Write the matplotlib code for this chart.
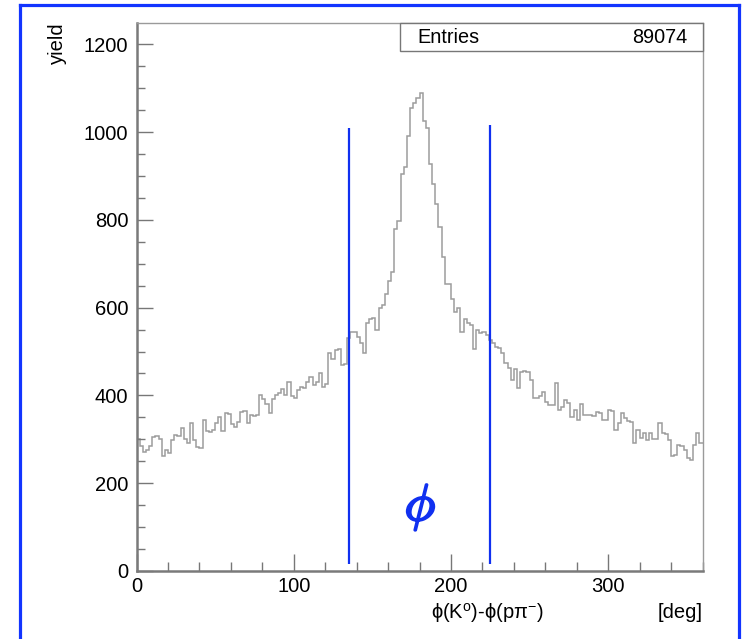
import numpy as np
import matplotlib
matplotlib.use("Agg")
import matplotlib.pyplot as plt
import matplotlib.patheffects as pe
from matplotlib.patches import Rectangle
from matplotlib.lines import Line2D

# ---- data -------------------------------------------------------------
bin_edges = np.arange(0, 362, 2)  # 2-degree bins from 0 to 360
counts = [
    300, 285, 270, 275, 285, 305, 308, 300, 262, 275,
    268, 298, 310, 308, 325, 300, 292, 338, 298, 282,
    280, 344, 318, 316, 322, 338, 350, 318, 360, 358,
    335, 328, 340, 362, 365, 338, 356, 354, 356, 402,
    392, 380, 360, 392, 402, 405, 415, 400, 430, 398,
    395, 412, 420, 417, 430, 442, 424, 430, 452, 420,
    425, 497, 482, 504, 505, 470, 472, 531, 545, 545,
    534, 520, 497, 566, 573, 577, 550, 600, 607, 630,
    660, 682, 780, 797, 905, 921, 990, 1055, 1065, 1077,
    1088, 1024, 1008, 928, 882, 836, 783, 715, 653, 653,
    620, 590, 600, 545, 575, 565, 560, 505, 548, 543,
    545, 538, 527, 520, 510, 508, 497, 474, 463, 435,
    460, 417, 454, 456, 454, 435, 394, 395, 398, 408,
    385, 378, 378, 428, 367, 373, 390, 382, 350, 367,
    343, 380, 355, 355, 355, 352, 362, 360, 343, 345,
    367, 365, 321, 337, 360, 348, 342, 340, 291, 321,
    302, 314, 298, 314, 300, 300, 337, 314, 312, 298,
    263, 265, 286, 284, 275, 257, 252, 286, 314, 291,
]
cut_positions = [135, 225]
cut_tops = [1008, 1015]
cut_bottom = 15
entries_label = "Entries"
entries_value = "89074"
x_ticks = [0, 100, 200, 300]
y_ticks = [0, 200, 400, 600, 800, 1000, 1200]

# ---- figure -----------------------------------------------------------
FONT = "Liberation Sans"
plt.rcParams["font.family"] = [FONT, "DejaVu Sans"]
plt.rcParams["mathtext.fontset"] = "custom"
plt.rcParams["mathtext.rm"] = FONT
plt.rcParams["mathtext.it"] = FONT + ":italic"

W, H = 747, 639
fig = plt.figure(figsize=(W / 100, H / 100), dpi=100)
ax = fig.add_axes([136.5 / W, 1 - 571 / H, 566 / W, 548.3 / H])

ax.stairs(counts, bin_edges, color="#9c9c9c", linewidth=1.1, baseline=None)

ax.set_xlim(0, 360)
ax.set_ylim(0, 1249)
ax.set_xticks(x_ticks)
ax.set_yticks(y_ticks)
ax.set_xticks(np.arange(0, 361, 20), minor=True)
ax.set_yticks(np.arange(0, 1250, 50), minor=True)
ax.tick_params(axis="both", which="both", direction="in", colors="#777777",
               labelcolor="black", labelsize=14.5, width=1.0)
ax.tick_params(axis="x", which="major", length=12, pad=4)
ax.tick_params(axis="x", which="minor", length=6.5)
ax.tick_params(axis="y", which="major", length=11.5, pad=6)
ax.tick_params(axis="y", which="minor", length=5.5)
ax.tick_params(top=False, right=False, which="both")

for side in ["left", "bottom"]:
    ax.spines[side].set_color("#7a7a7a")
    ax.spines[side].set_linewidth(1.8)
for side in ["top", "right"]:
    ax.spines[side].set_color("#9a9a9a")
    ax.spines[side].set_linewidth(1.0)

# cut lines
blue = "#1030f0"
for xc, yt in zip(cut_positions, cut_tops):
    ax.plot([xc, xc], [cut_bottom, yt], color=blue, linewidth=1.6,
            solid_capstyle="butt", zorder=3)

# big phi symbol
ax.text(180.5, 144, r"$\phi$", color=blue, fontsize=37,
        math_fontfamily="cm", ha="center", va="center",
        path_effects=[pe.withStroke(linewidth=1.6, foreground=blue)])

# stats box
ax.add_patch(Rectangle((0.4655, 0.949), 0.5345, 0.051, transform=ax.transAxes,
                       facecolor="white", edgecolor="#777777", linewidth=1.0,
                       zorder=4, clip_on=False))
ax.text(0.4956, 0.9735, entries_label, transform=ax.transAxes, fontsize=14.3,
        ha="left", va="center", zorder=5)
ax.text(0.9726, 0.9735, entries_value, transform=ax.transAxes, fontsize=14.3,
        ha="right", va="center", zorder=5)

# axis titles
fig.text(57 / W, 1 - 22.5 / H, "yield", rotation=90, fontsize=14.5,
         ha="center", va="top")
fig.text(487 / W, 1 - 613 / H, r"$\mathrm{ϕ(K^{o})\text{-}ϕ(pπ^{-})}$",
         fontsize=14.5, ha="center", va="center")
fig.text(703 / W, 1 - 613 / H, "[deg]", fontsize=14.5, ha="right", va="center")

# blue frame around the figure (open at the bottom)
bc = "#1234ff"
bw = 2.3
fig.add_artist(Line2D([20 / W, 20 / W], [0, 1 - 5 / H], color=bc, linewidth=bw,
                      transform=fig.transFigure))
fig.add_artist(Line2D([739 / W, 739 / W], [0, 1 - 5 / H], color=bc, linewidth=bw,
                      transform=fig.transFigure))
fig.add_artist(Line2D([20 / W, 739 / W], [1 - 5 / H, 1 - 5 / H], color=bc,
                      linewidth=bw, transform=fig.transFigure,
                      solid_capstyle="projecting"))

fig.savefig("out.png", dpi=100)
